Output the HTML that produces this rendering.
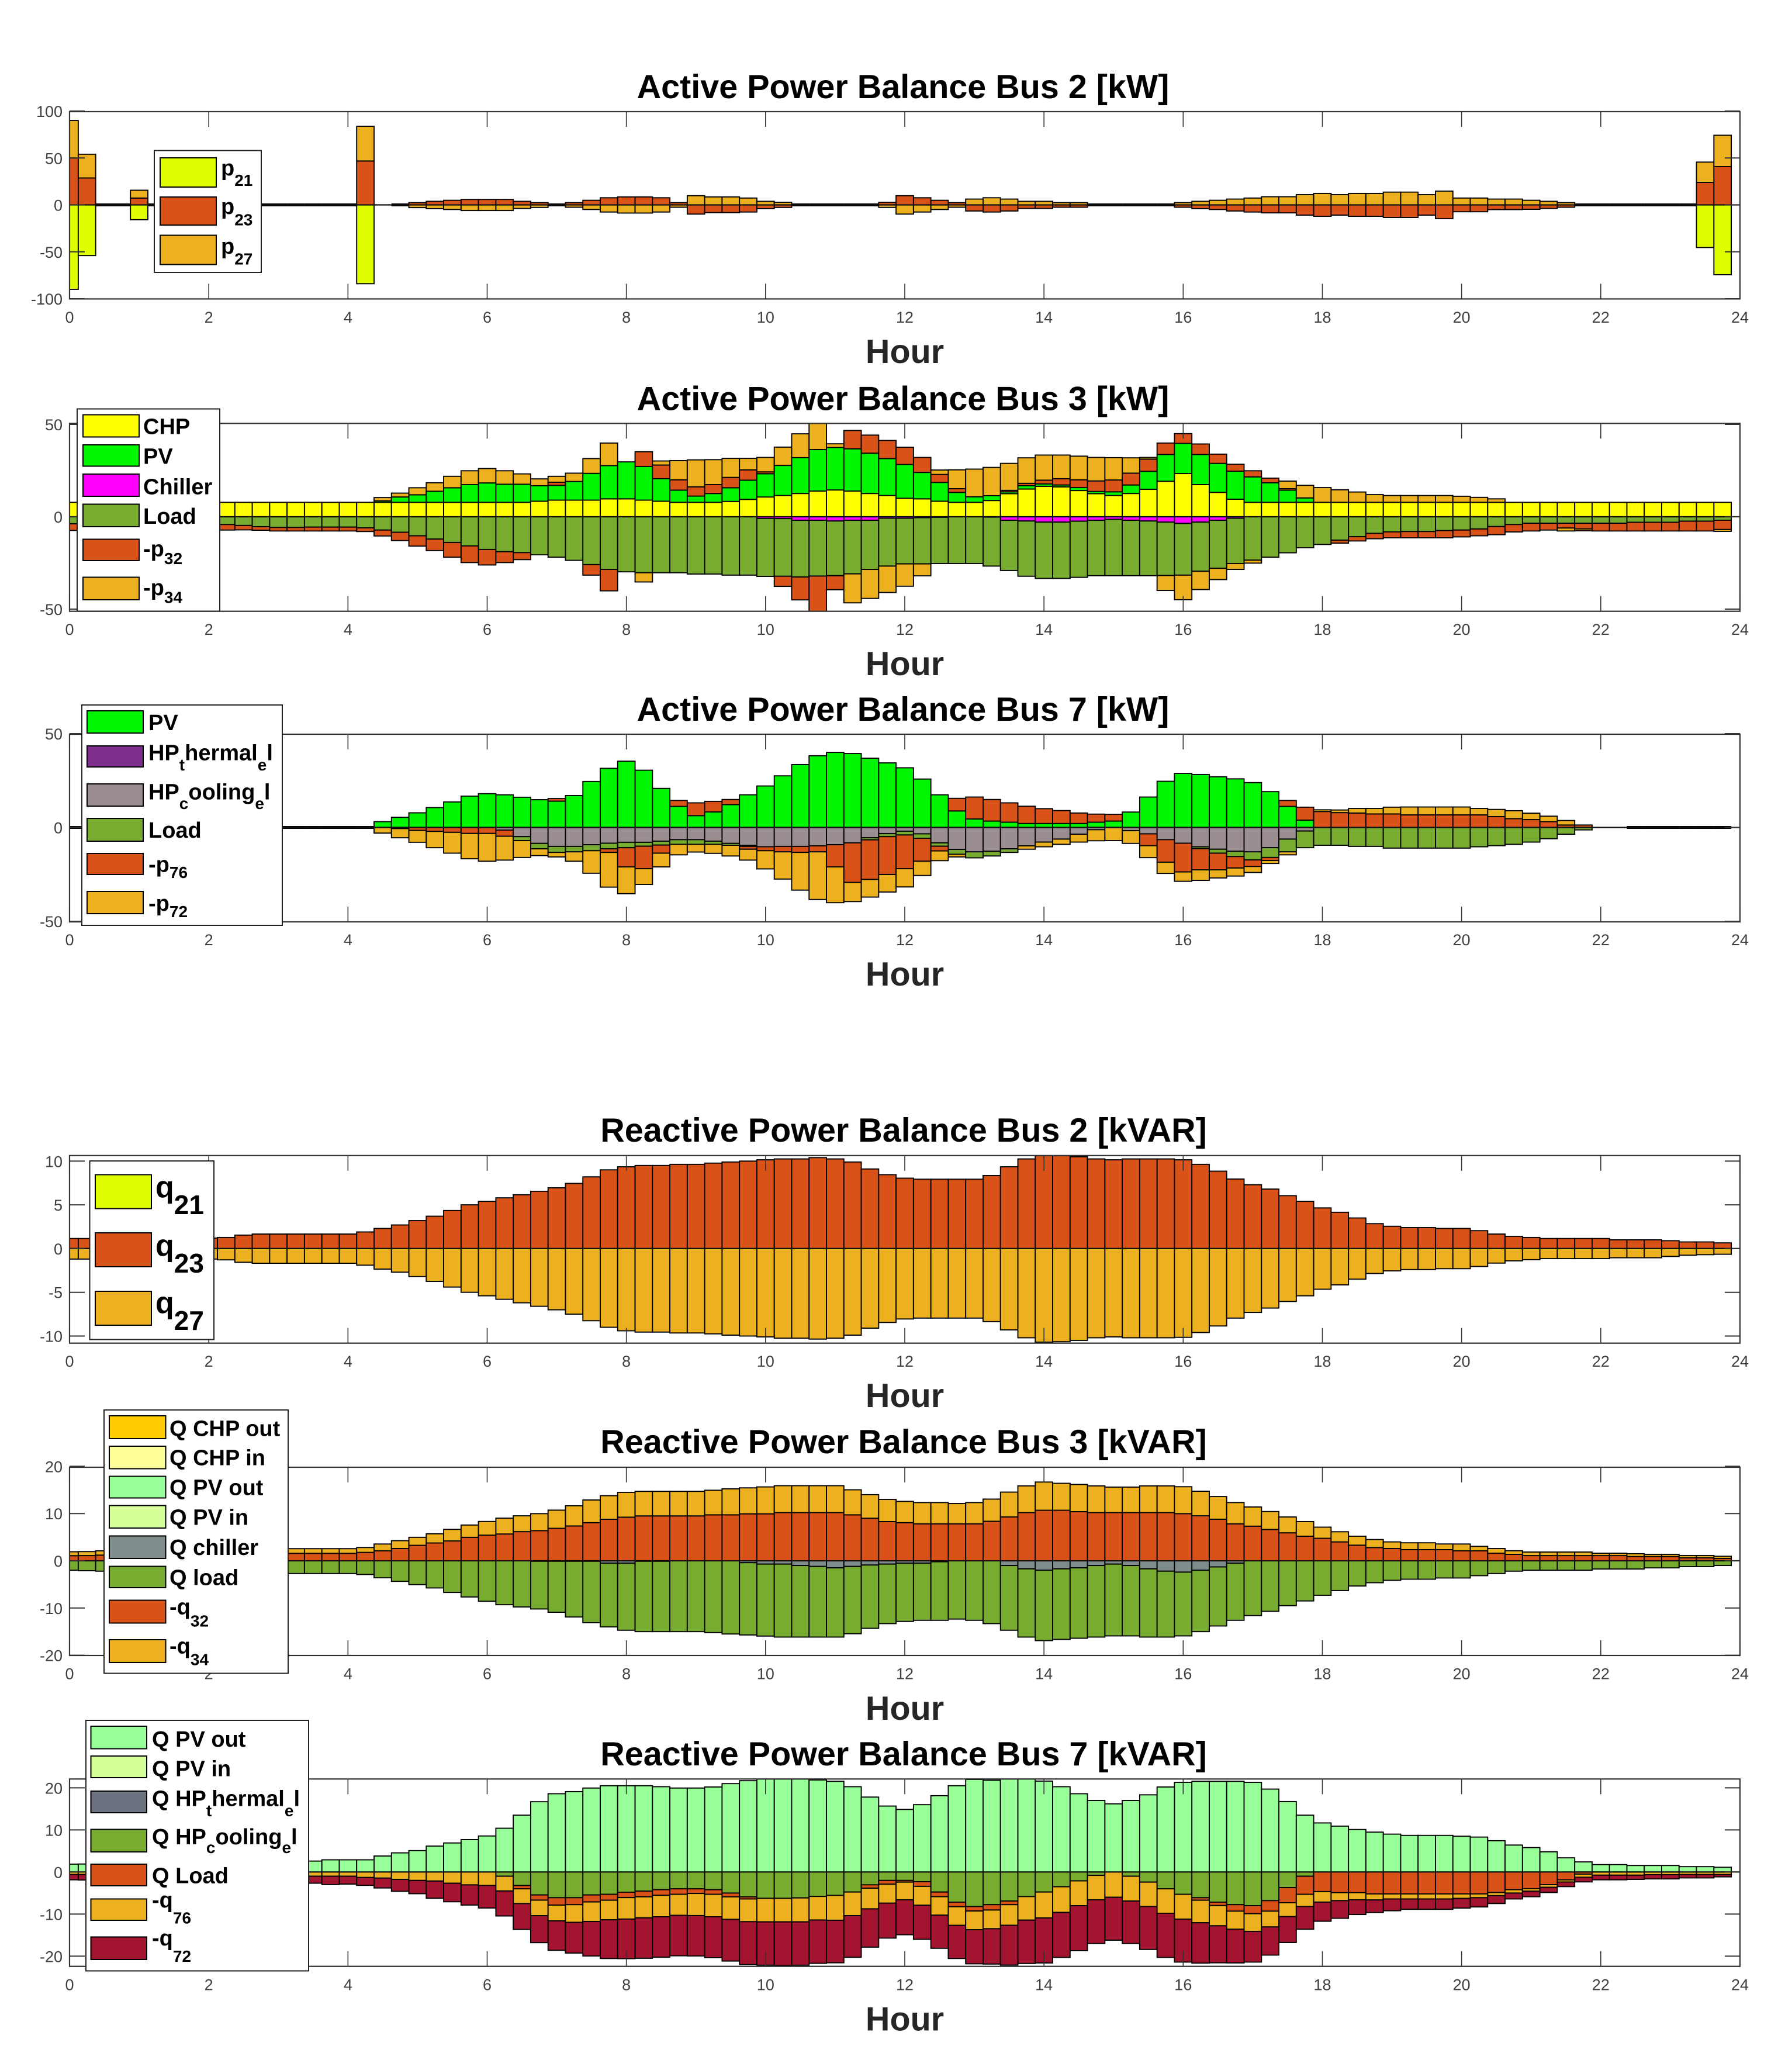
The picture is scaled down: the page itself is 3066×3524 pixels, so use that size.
<!DOCTYPE html>
<html lang="en">
<head>
<meta charset="utf-8">
<title>Power Balance Charts</title>
<style>
html,body{margin:0;padding:0;background:#fff;}
svg{display:block;font-family:"Liberation Sans",Arial,sans-serif;}
.title{font-size:57.5px;font-weight:bold;fill:#000;text-anchor:middle;}
.xlabel{font-size:57.5px;font-weight:bold;fill:#262626;text-anchor:middle;}
.tick{font-size:27px;fill:#404040;}
.lg-box{fill:#fff;stroke:#222;stroke-width:2;}
.lg-swatch{stroke:#000;stroke-width:2;}
.lg{font-size:38px;font-weight:bold;fill:#000;}
.s{font-size:28px;}
.lgq{font-size:52px;font-weight:bold;fill:#000;}
.sq{font-size:46px;}
</style>
</head>
<body>
<svg id="chart" xmlns="http://www.w3.org/2000/svg" width="3066" height="3524" viewBox="0 0 3066 3524">
<rect width="3066" height="3524" fill="#fff"/>

<g>
  <g id="p1"></g>
  <text class="title" x="1545" y="168">Active Power Balance Bus 2 [kW]</text>
  <text class="xlabel" x="1548" y="621">Hour</text>
  <g>
    <rect class="lg-box" x="264" y="257.5" width="183" height="208.5"/>
    <rect class="lg-swatch" x="274" y="270" width="96" height="50" fill="#DFFF00"/>
    <rect class="lg-swatch" x="274" y="337" width="96" height="48" fill="#D95319"/>
    <rect class="lg-swatch" x="274" y="402.5" width="96" height="50" fill="#EDB120"/>
    <text class="lg" x="378" y="300">p<tspan class="s" y="318">21</tspan></text>
    <text class="lg" x="378" y="366">p<tspan class="s" y="385.5">23</tspan></text>
    <text class="lg" x="378" y="434">p<tspan class="s" y="452.5">27</tspan></text>
  </g>
</g>

<g>
  <g id="p2"></g>
  <text class="title" x="1545" y="701.5">Active Power Balance Bus 3 [kW]</text>
  <text class="xlabel" x="1548" y="1155">Hour</text>
  <g>
    <rect class="lg-box" x="132" y="699.5" width="244" height="346"/>
    <rect class="lg-swatch" x="142" y="709.5" width="96" height="38" fill="#FFFF00"/>
    <rect class="lg-swatch" x="142" y="761" width="96" height="36.5" fill="#00F500"/>
    <rect class="lg-swatch" x="142" y="811" width="96" height="38" fill="#FF00FF"/>
    <rect class="lg-swatch" x="142" y="862.5" width="96" height="38.5" fill="#77AC30"/>
    <rect class="lg-swatch" x="142" y="922.5" width="96" height="36.5" fill="#D95319"/>
    <rect class="lg-swatch" x="142" y="987.5" width="96" height="38.5" fill="#EDB120"/>
    <text class="lg" x="245" y="742.5">CHP</text>
    <text class="lg" x="245" y="793.5">PV</text>
    <text class="lg" x="245" y="845.5">Chiller</text>
    <text class="lg" x="245" y="896">Load</text>
    <text class="lg" x="245" y="951.5">-p<tspan class="s" y="965">32</tspan></text>
    <text class="lg" x="245" y="1018">-p<tspan class="s" y="1031.5">34</tspan></text>
  </g>
</g>

<g>
  <g id="p3"></g>
  <text class="title" x="1545" y="1233">Active Power Balance Bus 7 [kW]</text>
  <text class="xlabel" x="1548" y="1686">Hour</text>
  <g>
    <rect class="lg-box" x="140" y="1206" width="343" height="377"/>
    <rect class="lg-swatch" x="149" y="1216" width="96" height="38" fill="#00F500"/>
    <rect class="lg-swatch" x="149" y="1276" width="96" height="36" fill="#7E2F8E"/>
    <rect class="lg-swatch" x="149" y="1341" width="96" height="38" fill="#9B8E91"/>
    <rect class="lg-swatch" x="149" y="1400" width="96" height="39" fill="#77AC30"/>
    <rect class="lg-swatch" x="149" y="1460" width="96" height="36" fill="#D95319"/>
    <rect class="lg-swatch" x="149" y="1525" width="96" height="38" fill="#EDB120"/>
    <text class="lg" x="254" y="1249">PV</text>
    <text class="lg" x="254" y="1300.5">HP<tspan class="s" y="1318">t</tspan><tspan y="1300.5">hermal</tspan><tspan class="s" y="1318">e</tspan><tspan y="1300.5">l</tspan></text>
    <text class="lg" x="254" y="1367.5">HP<tspan class="s" y="1384">c</tspan><tspan y="1367.5">ooling</tspan><tspan class="s" y="1384">e</tspan><tspan y="1367.5">l</tspan></text>
    <text class="lg" x="254" y="1433">Load</text>
    <text class="lg" x="254" y="1491.5">-p<tspan class="s" y="1502">76</tspan></text>
    <text class="lg" x="254" y="1558">-p<tspan class="s" y="1569">72</tspan></text>
  </g>
</g>

<g>
  <g id="p4"></g>
  <text class="title" x="1546" y="1953">Reactive Power Balance Bus 2 [kVAR]</text>
  <text class="xlabel" x="1548" y="2407">Hour</text>
  <g>
    <rect class="lg-box" x="153.5" y="1986" width="212.5" height="305.5"/>
    <rect class="lg-swatch" x="163" y="2009.5" width="96" height="58" fill="#DFFF00"/>
    <rect class="lg-swatch" x="163" y="2109" width="96" height="58" fill="#D95319"/>
    <rect class="lg-swatch" x="163" y="2209" width="96" height="58" fill="#EDB120"/>
    <text class="lgq" x="266" y="2048">q<tspan class="sq" y="2077">21</tspan></text>
    <text class="lgq" x="266" y="2148">q<tspan class="sq" y="2177">23</tspan></text>
    <text class="lgq" x="266" y="2246">q<tspan class="sq" y="2275">27</tspan></text>
  </g>
</g>

<g>
  <g id="p5"></g>
  <text class="title" x="1546" y="2486">Reactive Power Balance Bus 3 [kVAR]</text>
  <text class="xlabel" x="1548" y="2942">Hour</text>
  <g>
    <rect class="lg-box" x="178" y="2412" width="315" height="450.5"/>
    <rect class="lg-swatch" x="187" y="2422" width="96.5" height="39" fill="#FFCC00"/>
    <rect class="lg-swatch" x="187" y="2474" width="96.5" height="38.5" fill="#FFFF99"/>
    <rect class="lg-swatch" x="187" y="2525.5" width="96.5" height="37" fill="#99FF99"/>
    <rect class="lg-swatch" x="187" y="2575.5" width="96.5" height="38.5" fill="#D5FF99"/>
    <rect class="lg-swatch" x="187" y="2627.5" width="96.5" height="38.5" fill="#7F8C8C"/>
    <rect class="lg-swatch" x="187" y="2679.5" width="96.5" height="36.5" fill="#77AC30"/>
    <rect class="lg-swatch" x="187" y="2737.5" width="96.5" height="39" fill="#D95319"/>
    <rect class="lg-swatch" x="187" y="2805" width="96.5" height="39" fill="#EDB120"/>
    <text class="lg" x="290" y="2456.5">Q CHP out</text>
    <text class="lg" x="290" y="2506.5">Q CHP in</text>
    <text class="lg" x="290" y="2557.5">Q PV out</text>
    <text class="lg" x="290" y="2608.5">Q PV in</text>
    <text class="lg" x="290" y="2660">Q chiller</text>
    <text class="lg" x="290" y="2711.5">Q load</text>
    <text class="lg" x="290" y="2761.5">-q<tspan class="s" y="2782.5">32</tspan></text>
    <text class="lg" x="290" y="2828.5">-q<tspan class="s" y="2848.5">34</tspan></text>
  </g>
</g>

<g>
  <g id="p6"></g>
  <text class="title" x="1546" y="3020">Reactive Power Balance Bus 7 [kVAR]</text>
  <text class="xlabel" x="1548" y="3473.5">Hour</text>
  <g>
    <rect class="lg-box" x="147" y="2943" width="381" height="428.5"/>
    <rect class="lg-swatch" x="155.5" y="2953" width="95.5" height="38.5" fill="#99FF99"/>
    <rect class="lg-swatch" x="155.5" y="3004" width="95.5" height="37" fill="#D5FF99"/>
    <rect class="lg-swatch" x="155.5" y="3064" width="95.5" height="37" fill="#6B7280"/>
    <rect class="lg-swatch" x="155.5" y="3129.5" width="95.5" height="38.5" fill="#77AC30"/>
    <rect class="lg-swatch" x="155.5" y="3189" width="95.5" height="37" fill="#D95319"/>
    <rect class="lg-swatch" x="155.5" y="3248.5" width="95.5" height="36.5" fill="#EDB120"/>
    <rect class="lg-swatch" x="155.5" y="3313.5" width="95.5" height="38.5" fill="#A2142F"/>
    <text class="lg" x="260" y="2988">Q PV out</text>
    <text class="lg" x="260" y="3038.5">Q PV in</text>
    <text class="lg" x="260" y="3089.5">Q HP<tspan class="s" y="3107">t</tspan><tspan y="3089.5">hermal</tspan><tspan class="s" y="3107">e</tspan><tspan y="3089.5">l</tspan></text>
    <text class="lg" x="260" y="3155">Q HP<tspan class="s" y="3170">c</tspan><tspan y="3155">ooling</tspan><tspan class="s" y="3170">e</tspan><tspan y="3155">l</tspan></text>
    <text class="lg" x="260" y="3221.5">Q Load</text>
    <text class="lg" x="260" y="3263">-q<tspan class="s" y="3290.5">76</tspan></text>
    <text class="lg" x="260" y="3328">-q<tspan class="s" y="3356">72</tspan></text>
  </g>
</g>
</svg>

<script>
// ---------- shared axis values ----------
var hourTicks = [0,2,4,6,8,10,12,14,16,18,20,22,24];

// ---------- Active Power Balance Bus 2 ----------
var p2Ticks = [100,50,0,-50,-100];
var p2_p21 = [
-90,-54,0,0,-15.8,0,0,0,0,0,0,0,
0,0,0,0,0,-84,0,0,0,0,0,0,
0,0,0,0,0,0,0,0,0,0,0,0,
0,0,0,0,0,0,0,0,0,0,0,0,
0,0,0,0,0,0,0,0,0,0,0,0,
0,0,0,0,0,0,0,0,0,0,0,0,
0,0,0,0,0,0,0,0,0,0,0,0,
0,0,0,0,0,0,0,0,0,0,-45.4,-74.4];
var p2_p23 = [
50,28.7,0,0,7.3,0,0,0,0,0,0,0,
0,0,0,0,0,46.8,0.01,0,2.4,3.8,4.9,5.8,
5.8,5.8,3.8,2.4,0,2.4,4.9,7.6,8.5,8.5,7.6,2.4,
-9.8,-8.2,-8.2,-7.6,-4,-2.7,0,0,0,0,0,2.7,
9.8,7.6,4.9,2.4,-6.5,-7.6,-6.5,-3.8,-3.8,-2.5,-2.5,0,
0,0,0,0,-2.5,-4,-4.9,-6.5,-7.6,-8.5,-8.5,-10.9,
-12.2,-10.9,-12.2,-12.2,-13.4,-13.4,-10.9,-14.7,-7.3,-7.3,-5,-5,
-4.7,-3.8,-2.5,0,0,0,0,0,0,0,24,40.8];
var p2_p27 = [
40,25.3,0,0,8.3,0,0,0,0,0,0,0,
0,0,0,0,0,37,0,0,-2.9,-4,-4.9,-6,
-6,-6,-3.8,-2.7,0,-2.5,-4.9,-7.6,-8.7,-8.7,-7.6,-2.5,
9.8,8.5,8.5,7.3,3.8,2.7,0,0,0,0,0,-2.7,
-9.8,-7.6,-4.9,-2.5,6.2,7.6,6.2,3.8,3.8,2.4,2.4,0,
0,0,0,0,2.4,3.8,4.9,6.2,7.3,8.7,8.7,10.9,
12.2,10.9,12.2,12.2,13.6,13.6,10.9,14.7,7.3,7.3,6.2,6.2,
4.9,3.8,2.4,0,0,0,0,0,0,0,21.6,33.4];

// ---------- Active Power Balance Bus 3 ----------
var p3Ticks = [50,0,-50];
var p3_chp = [
7.8,7.8,7.8,7.8,7.8,7.8,7.8,7.8,7.8,7.8,7.8,7.8,
7.8,7.8,7.8,7.8,7.8,7.8,7.8,7.8,7.8,7.8,7.8,7.8,
7.8,7.8,7.8,8.4,9,9,9,9.7,9.7,9,8.4,7.8,
7.8,7.8,8.3,9.4,10.7,11.5,12.6,13.9,14.5,13.9,12.6,11.5,
10,9.7,8.4,7.8,7.8,8.8,12.5,15,16.5,16.2,14.2,12.5,
11.5,12.6,14.9,19.2,23.4,17.4,13.2,9.5,7.8,7.8,7.8,7.8,
7.8,7.8,7.8,7.8,7.8,7.8,7.8,7.8,7.8,7.8,7.8,7.8,
7.8,7.8,7.8,7.8,7.8,7.8,7.8,7.8,7.8,7.8,7.8,7.8];
var p3_pv = [
0,0,0,0,0,0,0,0,0,0,0,0,
0,0,0,0,0,0,0.8,2.9,4.1,6,7.9,9.6,
10.5,9.8,9.8,8.4,8,10.1,14.5,18,20,18.2,12.2,6.6,
3.4,4.8,7.4,10.4,12.6,16.3,19.4,22.5,23,22.9,21.8,20,
18.3,14.3,10.2,5.4,3,2.6,1,1.8,1.3,1,1.6,1.2,
2,4.6,9.7,14.5,16.3,16.3,15.7,15.2,13.8,10.6,6.6,2.4,
0,0,0,0,0,0,0,0,0,0,0,0,
0,0,0,0,0,0,0,0,0,0,0,0];
var p3_chiller = [
0,0,0,0,0,0,0,0,0,0,0,0,
0,0,0,0,0,0,0,0,0,0,0,0,
0,0,0,0,0,0,0,0,0,0,0,0,
0,0,0,0,-0.9,-1,-1.9,-1.9,-2.3,-1.9,-1.9,-0.8,
-0.8,-0.5,-0.3,0,0,-0.2,-1.9,-2.3,-2.9,-2.9,-2.4,-1.9,
-1.4,-1.9,-2.3,-2.9,-3.6,-2.9,-1.9,-0.8,0,0,0,0,
0,0,0,0,0,0,0,0,0,0,0,0,
0,0,0,0,0,0,0,0,0,0,0,0];
var p3_load = [
-3.8,-4,-4,-4,-4,-4,-4,-4,-4,-4.2,-4.7,-5.4,
-5.8,-5.8,-5.6,-5.6,-5.6,-6,-7.2,-8.4,-10.3,-12.1,-13.9,-15.8,
-17.7,-18.9,-19.4,-20.6,-21.9,-23.6,-25.9,-28.5,-29.8,-30.3,-30.3,-30.3,
-31,-31,-31.6,-31.6,-31.4,-31.2,-30.7,-30.2,-29.6,-29,-26.6,-25.9,
-24.7,-25,-25,-25.3,-25.3,-26.5,-27.2,-29.9,-30.5,-30.5,-30.4,-30,
-30.5,-30,-29.6,-28.9,-28,-26.6,-26,-24.5,-23.5,-21.9,-19.5,-16.8,
-15,-12.7,-10.8,-9,-8.2,-8,-8,-7.5,-7.2,-6.6,-5.3,-4.2,
-3.5,-3.5,-3.5,-3.5,-3.5,-3.5,-3,-3,-3,-2.4,-2.4,-1.9];
var p3_p32 = [
-3.6,-3.5,-3.4,-3.3,-3.2,-3.2,-3.1,-3.1,-3,-3,-2.4,-1.9,
-1.9,-1.9,-2.1,-2.1,-2.1,-2,-3.2,-4.5,-5.6,-6.2,-8,-9,
-8.4,-5.9,-3.8,0,1.7,0,-5.7,-11.6,0,8,7.4,5.6,
5,4.8,5.6,5.6,1,-5.5,-12.4,-20,-7.6,9.9,9.8,9.8,
9.3,8.1,4.3,2,0,0,0.8,1.3,2,3.4,4.2,5.7,
6.4,6.4,6.6,6.2,5.3,5.7,5,3.7,3.3,2.5,0.8,0,
0,-1.6,-2.3,-2.9,-3.2,-3.4,-3.4,-3.9,-3.7,-3.7,-4.4,-4,
-4.2,-3.7,-2.6,-3.1,-4.2,-4.2,-4.7,-4.7,-4.7,-5.3,-5.3,-5];
var p3_p34 = [
0,0,0,0,0,0,0,0,0,0,0,0,
0,0,0,0,0,0,1.8,2.1,3.8,4.6,6.2,7.5,
7.8,7.3,5.6,3.7,3.2,4.5,8,12.2,0,-5,2.2,10.4,
14.6,13.5,10.3,6.2,7.8,9.9,12.9,14.5,2,-15.7,-15.7,-14.3,
-12.1,-6.5,2.4,10.2,15,15.3,14.6,13.8,13.6,12.8,12.8,12.7,
12.1,8.3,0.9,-8.1,-13.3,-9.9,-6.1,-3.2,-1.6,0,4.1,6.8,
8,6.8,5.6,4.2,3.7,3.7,3.7,3.7,3.3,2.7,1.9,0,
0,0,-1.6,-1,0,0,0,0,0,0,0,-1];

// ---------- Active Power Balance Bus 7 ----------
var p7Ticks = [50,0,-50];
var p7_pv = [
0,0,0,0,0,0,0,0,0,0,0,0,
0,0,0,0,0,0,3.1,5.4,7.8,10.6,13.6,16.7,
18,17.4,16.1,14.8,14,17,24.5,31.5,35.3,30.5,20.8,11.2,
6.3,8.3,12.2,17.4,22.1,27.5,33.5,38.2,40,39.4,36.9,34.4,
31.8,25.8,17.4,8.8,4.5,3.4,2.8,2.1,2.1,2.1,2.1,2.8,
3.4,8.2,16.2,24.6,28.8,28.2,27,25.9,23.9,19.1,11.2,3.9,
0,0,0,0,0,0,0,0,0,0,0,0,
0,0,0,0,0,0,0,0,0,0,0,0];
var p7_cool = [
0,0,0,0,0,0,0,0,0,0,0,0,
0,0,0,0,0,0,0,0,0,0,0,0,
0,-1.4,-4.9,-8.5,-10.1,-10.1,-9.2,-8.4,-7.9,-7.9,-7.3,-6.5,
-6.5,-7.3,-8.5,-9.5,-10.3,-10.1,-10.1,-9.8,-9.2,-8.2,-5.5,-3.3,
-2,-3.4,-8.2,-11.7,-13,-12.7,-11.4,-9.8,-7.8,-6.2,-3.6,-1.2,
0,-1.7,-3.4,-6.5,-8.4,-10.3,-11.6,-12.7,-13,-10.8,-6.2,-1.9,
0,0,0,0,0,0,0,0,0,0,0,0,
0,0,0,0,0,0,0,0,0,0,0,0];
var p7_load = [
0,0,0,0,0,0,0,0,0,0,0,0,
0,0,0,0,0,0,0,0,0,0,0,0,
0,0,-2.1,-2.9,-3.2,-2.9,-3.2,-3,-2.9,-2.1,-2.1,-2.5,
-2.5,-1.7,-1,-0.6,0,0,0,0,0,0,-1.1,-1.6,
-2,-2.4,-1.8,-2.6,-3.2,-2.5,-1.9,0,0,0,0,0,
0,0,0,0,0,-1,-2.1,-2.8,-4.3,-5.2,-6.8,-8.9,
-9.5,-9.5,-10.1,-10.1,-11,-11,-11,-11,-11,-10.3,-9.7,-9,
-7.8,-6,-3.6,-1.3,0,0,0,0,0,0,0,0];
var p7_p76 = [
0,0,0,0,0,0,0,0,0,0,0,0,
0,0,0,0,0,0,0,-0.6,-1.6,-2.1,-2.6,-3.2,
-3.2,-3.3,0,0,1.4,0,0,-1.9,-10.2,-12,-4.3,3.2,
6.8,5.6,2.7,-1.5,-2.1,-2.9,-3.2,-3.2,-11.8,-21.1,-21.1,-20.2,
-18,-12.2,-2.5,6.7,11.7,11.5,10.3,9.2,7.9,6.9,5.6,4.3,
3.6,0,-6.3,-12,-15.3,-11.3,-8.9,-6.1,-3.5,-1.6,3.2,6.9,
8.5,7.9,7.7,7.2,7.2,6.7,6.7,6.7,6.7,6.7,5.8,4.7,
4.2,3.1,1.3,1.3,0.01,0.01,0,0,0,0,0,0];
var p7_p72 = [
0,0,0,0,0,0,0,0,0,0,0,0,
0,0,0,0,0,0,-3,-4.9,-6.3,-8.7,-11.1,-13.5,
-14.8,-12.7,-9,-3.6,-2.4,-5,-12,-18.5,-14.3,-8.4,-7.3,-5.6,
-4.1,-4.8,-5.7,-5.8,-9.7,-14.5,-20.1,-25.4,-19.1,-10.2,-9.4,-9.3,
-9.7,-7.6,-5.2,-1.4,0,0,0,-1.8,-2.5,-2.8,-4.2,-5.9,
-7,-6.8,-6.4,-6,-5,-5.6,-4.3,-4.3,-3.2,-1.6,-1.6,0,
0.9,1.4,2.4,2.9,3.6,4.2,4.2,4.2,4.2,3.4,3.8,4.2,
3.4,2.9,2.4,0,0,0,0,0,0,0,0,0];

// ---------- Reactive Power Balance Bus 2 ----------
var q2Ticks = [10,5,0,-5,-10];
var q2_q23 = [
1.15,1.15,1.15,1.15,1.15,1.15,1.15,1.15,1.2,1.27,1.54,1.66,
1.66,1.66,1.66,1.66,1.66,1.9,2.3,2.7,3.2,3.7,4.35,5,
5.4,5.8,6.15,6.55,6.95,7.45,8.2,9,9.35,9.5,9.5,9.63,
9.63,9.77,9.9,10,10.15,10.25,10.25,10.4,10.25,9.9,9.1,8.45,
8.05,7.93,7.93,7.93,7.93,8.35,9.35,10.25,10.65,10.65,10.5,10.25,
10.15,10.25,10.25,10.25,10.15,9.63,8.85,7.95,7.3,6.8,6.05,5.4,
4.65,4.15,3.5,2.85,2.55,2.4,2.4,2.3,2.3,2.05,1.66,1.4,
1.27,1.15,1.15,1.15,1.15,1,1,1,0.9,0.76,0.76,0.65];
var q2_q27 = [
-1.2,-1.2,-1.2,-1.2,-1.2,-1.2,-1.2,-1.2,-1.2,-1.29,-1.57,-1.68,
-1.68,-1.68,-1.68,-1.68,-1.68,-1.9,-2.35,-2.7,-3.2,-3.75,-4.4,-5,
-5.4,-5.8,-6.2,-6.6,-7,-7.5,-8.25,-9,-9.4,-9.55,-9.55,-9.65,
-9.65,-9.75,-9.9,-10,-10.1,-10.25,-10.25,-10.35,-10.25,-9.9,-9.1,-8.45,
-8.05,-7.95,-7.95,-7.95,-7.95,-8.35,-9.3,-10.2,-10.7,-10.65,-10.5,-10.2,
-10.1,-10.2,-10.2,-10.2,-10.15,-9.6,-8.85,-7.95,-7.3,-6.8,-6.05,-5.4,
-4.65,-4.15,-3.5,-2.85,-2.55,-2.4,-2.4,-2.3,-2.3,-2.05,-1.66,-1.4,
-1.27,-1.15,-1.15,-1.15,-1.15,-1.05,-1.05,-1.05,-0.9,-0.76,-0.7,-0.65];

// ---------- Reactive Power Balance Bus 3 ----------
var q3Ticks = [20,10,0,-10,-20];
var q3_q32 = [
1.08,1.1,1.2,1.3,1.4,1.5,1.55,1.57,1.57,1.57,1.57,1.57,
1.57,1.57,1.57,1.57,1.57,1.78,2.1,2.6,3.27,3.77,4.2,4.97,
5.42,5.67,6.17,6.38,6.87,7.37,8.07,8.78,9.23,9.5,9.5,9.5,
9.5,9.73,9.73,9.94,9.94,10.2,10.2,10.2,10.2,9.73,9,8.3,
8.07,7.83,7.83,7.83,7.83,8.36,9.28,10.2,10.7,10.7,10.4,10.2,
10.2,10.2,10.2,10.2,9.98,9.52,8.8,7.83,7.33,6.63,5.92,5.2,
4.76,4,3.3,2.8,2.6,2.36,2.36,2.36,2.1,2.1,1.6,1.37,
1.1,1.1,1.1,1.1,1.1,1.1,0.9,0.9,0.9,0.62,0.62,0.5];
var q3_q34 = [
0.83,0.85,0.9,0.9,0.95,0.95,1,1,1,1,1,1,
1,1,1,1,1,1.03,1.45,1.66,1.7,1.95,2.45,2.6,
2.9,3.35,3.35,3.6,3.85,4.27,4.8,5,5.26,5.2,5.2,5.2,
5.2,5.2,5.5,5.5,5.7,5.7,5.7,5.7,5.7,5.3,5,4.7,
4.5,4.5,4.5,4.3,4.5,4.7,5.26,5.66,5.97,5.7,5.76,5.66,
5.4,5.4,5.66,5.66,5.7,5.2,4.8,4.5,4.06,3.8,3.35,3.1,
2.36,2.15,1.9,1.7,1.4,1.45,1.45,1.2,1.45,0.95,1,0.75,
0.75,0.75,0.75,0.75,0.5,0.5,0.6,0.45,0.45,0.5,0.5,0.45];
var q3_chiller = [
0,0,0,0,0,0,0,0,0,0,0,0,
0,0,0,0,0,0,0,0,0,0,0,0,
0,0,0,-0.1,-0.1,-0.1,-0.1,-0.5,-0.5,-0.1,-0.1,0,
0,0,0,-0.4,-0.7,-0.7,-1,-1.2,-1.5,-1.2,-0.9,-0.7,
-0.5,-0.5,-0.2,0,0,0,-1,-1.7,-2,-1.7,-1.5,-1,
-0.7,-1,-1.7,-2.2,-2.4,-2,-1.3,-0.5,0,0,0,0,
0,0,0,0,0,0,0,0,0,0,0,0,
0,0,0,0,0,0,0,0,0,0,0,0];
var q3_load = [
-2,-2.1,-2.2,-2.3,-2.4,-2.5,-2.6,-2.7,-2.7,-2.7,-2.7,-2.7,
-2.7,-2.7,-2.7,-2.7,-2.7,-2.9,-3.6,-4.35,-5.05,-5.75,-6.7,-7.66,
-8.57,-9.3,-9.77,-10.1,-10.8,-11.8,-13,-13.5,-14.2,-14.9,-14.9,-15,
-15,-15.2,-15.5,-15.3,-15.24,-15.45,-15.15,-14.95,-14.65,-14.24,-13.4,-12.6,
-12.34,-12.1,-12.4,-12.34,-12.6,-13.3,-13.7,-14.45,-14.9,-14.95,-14.9,-15.15,
-15.2,-14.9,-14.45,-13.95,-13.5,-13,-12.5,-12.1,-11.6,-10.7,-9.5,-8.5,
-7.3,-6.3,-5.34,-4.64,-4.14,-3.9,-3.9,-3.64,-3.64,-3.15,-2.7,-2.2,
-2,-2,-2,-2,-1.74,-1.74,-1.74,-1.5,-1.5,-1.24,-1.24,-1];

// ---------- Reactive Power Balance Bus 7 ----------
var q7Ticks = [20,10,0,-10,-20];
var q7_pvOut = [
1.87,1.9,1.95,2,2.05,2.1,2.15,2.2,2.25,2.3,2.35,2.4,
2.45,2.5,2.6,2.9,2.9,2.9,3.8,4.55,5.08,6.15,6.9,7.7,
8.56,10.4,13.5,16.7,18.6,19.1,19.95,20.5,20.5,20.5,20.27,19.95,
19.95,20.2,21,21.7,22.1,22.1,22.1,21.87,21.55,20.27,17.8,15.67,
14.87,16,18.13,20.5,22,21.8,22.1,22.1,21.6,20.27,18.6,17,
16.2,17,18.34,20.2,21.3,21.55,21.55,21.55,21.3,19.7,16.74,13.5,
11.66,10.9,10.1,9.47,9,8.7,8.7,8.7,8.5,8.3,7.43,6.4,
5.8,4.8,3.37,2.4,1.76,1.76,1.55,1.55,1.55,1.28,1.28,1.12];
var q7_cool = [
0,0,0,0,0,0,0,0,0,0,0,0,
0,0,0,0,0,0,0,0,0,0,0,0,
0,-1,-3.2,-5.45,-6.1,-6.1,-5.45,-5.3,-4.8,-4.55,-4.2,-4,
-4,-4.2,-5,-5.9,-6.25,-6.25,-6.15,-5.8,-5.56,-4.76,-3.05,-2,
-2,-2.3,-4.76,-7.17,-8.2,-7.75,-6.9,-5.83,-4.76,-3.5,-2.1,-0.8,
0,-1,-2.4,-4,-5.3,-6.1,-7.17,-7.75,-8,-6.8,-3.7,-1,
0,0,0,0,0,0,0,0,0,0,0,0,
0,0,0,0,0,0,0,0,0,0,0,0];
var q7_load = [
0,0,0,0,0,0,0,0,0,0,0,0,
0,0,0,0,0,0,0,0,0,0,0,0,
0,0,-0.8,-1.23,-1.76,-1.66,-1.66,-1.4,-1.28,-1.34,-1.34,-1.3,
-1.1,-1.1,-0.9,-0.5,0,0,0,0,0,0,-0.8,-0.9,
-0.4,-1.1,-1.1,-1.07,-1.07,-1.28,-0.86,0,0,0,0,0,
0,0,0,0,0,-0.6,-0.8,-1.55,-1.9,-2.5,-3.6,-4.3,
-4.65,-4.9,-4.9,-5.2,-5.2,-5.2,-5.2,-5.2,-5.2,-5.2,-4.87,-4.2,
-3.96,-3,-1.87,-0.5,0,0,0,0,0,0,0,0];
var q7_q76 = [
-0.6,-0.6,-0.7,-0.7,-0.8,-0.8,-0.9,-0.9,-0.9,-1,-1,-1,
-1,-1,-1,-1,-1,-1.3,-1.44,-1.76,-2,-2.14,-2.67,-3.05,
-3.2,-3.5,-3.5,-3.7,-3.75,-4.2,-4.65,-4.65,-5.1,-5,-5.1,-5,
-5.25,-5.35,-5.35,-5.4,-5.6,-5.6,-5.7,-5.6,-5.9,-5.6,-4.9,-4.5,
-4.2,-4.5,-4.4,-4.44,-4.44,-4.44,-4.9,-5.6,-6.15,-6.1,-5.9,-5.8,
-6,-5.9,-5.8,-5.8,-5.9,-5.35,-4.8,-4.3,-4.2,-3.74,-3.3,-2.9,
-2.5,-1.9,-1.7,-1.44,-1.2,-1.2,-1.2,-1.2,-1.07,-0.9,-0.75,-0.8,
-0.6,-0.64,-0.5,-0.75,-0.75,-0.75,-0.75,-0.64,-0.64,-0.6,-0.6,-0.6];
var q7_q72 = [
-1.25,-1.3,-1.35,-1.4,-1.4,-1.45,-1.5,-1.5,-1.55,-1.6,-1.6,-1.65,
-1.65,-1.66,-1.66,-1.98,-1.87,-1.87,-2.35,-2.83,-3.15,-4.1,-4.4,-4.8,
-5.35,-5.94,-6.15,-6.4,-7,-7.3,-8.2,-9.2,-9.4,-9.6,-9.6,-9.6,
-9.6,-9.7,-9.9,-10.2,-10.3,-10.4,-10.3,-10.3,-10.1,-9.9,-9.1,-8.3,
-8.3,-8.1,-7.86,-7.86,-8.1,-8.4,-9.46,-10.3,-10.7,-10.7,-10.7,-10.4,
-10.2,-10.1,-10.2,-10.5,-10.2,-9.6,-8.8,-8,-7.3,-6.7,-6.15,-5.4,
-4.55,-4.2,-3.5,-3,-2.8,-2.46,-2.46,-2.46,-2.3,-2.2,-1.87,-1.4,
-1.3,-1.23,-1.1,-1.1,-1.1,-1.1,-1,-1,-1,-0.8,-0.8,-0.55];

// ---------- drawing ----------
var SVGNS = 'http://www.w3.org/2000/svg';
var AX_LEFT = 119, AX_RIGHT = 2977, HOUR_SPAN = 24, BAR_HOURS = 0.25;
function xScale(h){ return AX_LEFT + h * (AX_RIGHT - AX_LEFT) / HOUR_SPAN; }
function node(tag, attrs, parent){
  var el = document.createElementNS(SVGNS, tag);
  for (var k in attrs) el.setAttribute(k, attrs[k]);
  parent.appendChild(el);
  return el;
}
function drawPanel(cfg, idx){
  var root = document.getElementById(cfg.id);
  var yScale = function(v){ return cfg.zero - v * cfg.scale; };
  var clipId = 'clip-' + cfg.id;
  var defs = node('defs', {}, root);
  var cp = node('clipPath', {id: clipId}, defs);
  node('rect', {x: AX_LEFT, y: cfg.top, width: AX_RIGHT - AX_LEFT, height: cfg.bottom - cfg.top}, cp);

  var barsG = node('g', {'clip-path': 'url(#' + clipId + ')'}, root);
  
  

  var n = cfg.series[0].values.length;
  var w = xScale(BAR_HOURS) - xScale(0);
  for (var i = 0; i < n; i++) {
    var hour = i * BAR_HOURS;
    var x = xScale(hour - BAR_HOURS / 2);
    var pos = 0, neg = 0, any = false;
    for (var s = 0; s < cfg.series.length; s++) {
      var v = cfg.series[s].values[i] || 0;
      if (v === 0) continue;
      any = true;
      var a, b;
      if (v > 0) { a = pos; b = pos + v; pos = b; }
      else { a = neg; b = neg + v; neg = b; }
      var yA = yScale(Math.max(a, b)), yB = yScale(Math.min(a, b));
      var el = node('rect', {x: x, y: yA, width: w, height: yB - yA, fill: cfg.series[s].color, stroke: '#000', 'stroke-width': 1.9}, barsG);
      
      
    }
    if (!any) {
      var z = node('rect', {x: x, y: yScale(0) - 2.5, width: w, height: 5, fill: '#000'}, barsG);
      
      
    }
  }

  var axG = node('g', {}, root);
  
  

  var base = node('line', {x1: AX_LEFT, x2: AX_RIGHT, y1: yScale(0), y2: yScale(0), stroke: '#111', 'stroke-width': 2.2}, axG);
  
  

  var box = node('rect', {x: AX_LEFT, y: cfg.top, width: AX_RIGHT - AX_LEFT, height: cfg.bottom - cfg.top, fill: 'none', stroke: '#333', 'stroke-width': 2.2}, axG);
  
  

  hourTicks.forEach(function(h){
    var tx = xScale(h);
    var t1 = node('line', {x1: tx, x2: tx, y1: cfg.top, y2: cfg.top + 26, stroke: '#333', 'stroke-width': 1.6}, axG);
    
    
    var t2 = node('line', {x1: tx, x2: tx, y1: cfg.bottom - 26, y2: cfg.bottom, stroke: '#333', 'stroke-width': 1.6}, axG);
    
    
    var lab = node('text', {x: tx, y: cfg.xLabelY, 'text-anchor': 'middle', 'class': 'tick'}, axG);
    lab.textContent = String(h);
    
    
  });

  cfg.yTicks.forEach(function(v){
    var ty = yScale(v);
    var t1 = node('line', {x1: AX_LEFT, x2: AX_LEFT + 26, y1: ty, y2: ty, stroke: '#333', 'stroke-width': 2}, axG);
    
    
    var t2 = node('line', {x1: AX_RIGHT - 26, x2: AX_RIGHT, y1: ty, y2: ty, stroke: '#333', 'stroke-width': 2}, axG);
    
    
    var lab = node('text', {x: 107, y: ty + 10, 'text-anchor': 'end', 'class': 'tick'}, axG);
    lab.textContent = String(v);
    
    
  });
}

var ORANGE = '#D95319', GOLD = '#EDB120', GREEN = '#77AC30', LIME = '#DFFF00';
var panels = [
  {id:'p1', top:191, bottom:511.4, zero:350.5, scale:1.605, xLabelY:552, yTicks:p2Ticks,
   series:[{values:p2_p21,color:LIME},{values:p2_p23,color:ORANGE},{values:p2_p27,color:GOLD}]},
  {id:'p2', top:724.3, bottom:1045.7, zero:884, scale:3.16, xLabelY:1086, yTicks:p3Ticks,
   series:[{values:p3_chp,color:'#FFFF00'},{values:p3_pv,color:'#00F500'},{values:p3_chiller,color:'#FF00FF'},{values:p3_load,color:GREEN},{values:p3_p32,color:ORANGE},{values:p3_p34,color:GOLD}]},
  {id:'p3', top:1256, bottom:1577, zero:1415.5, scale:3.21, xLabelY:1617, yTicks:p7Ticks,
   series:[{values:p7_pv,color:'#00F500'},{values:p7_cool,color:'#9B8E91'},{values:p7_load,color:GREEN},{values:p7_p76,color:ORANGE},{values:p7_p72,color:GOLD}]},
  {id:'p4', top:1976.8, bottom:2297.7, zero:2135.9, scale:14.96, xLabelY:2338, yTicks:q2Ticks,
   series:[{values:q2_q23,color:ORANGE},{values:q2_q27,color:GOLD}]},
  {id:'p5', top:2510, bottom:2832, zero:2670, scale:8.08, xLabelY:2872.5, yTicks:q3Ticks,
   series:[{values:q3_chiller,color:'#7F8C8C'},{values:q3_load,color:GREEN},{values:q3_q32,color:ORANGE},{values:q3_q34,color:GOLD}]},
  {id:'p6', top:3043.3, bottom:3363.8, zero:3202.4, scale:7.2, xLabelY:3404.5, yTicks:q7Ticks,
   series:[{values:q7_pvOut,color:'#99FF99'},{values:q7_cool,color:GREEN},{values:q7_load,color:ORANGE},{values:q7_q76,color:GOLD},{values:q7_q72,color:'#A2142F'}]}
];
panels.forEach(drawPanel);
</script>
</body>
</html>
